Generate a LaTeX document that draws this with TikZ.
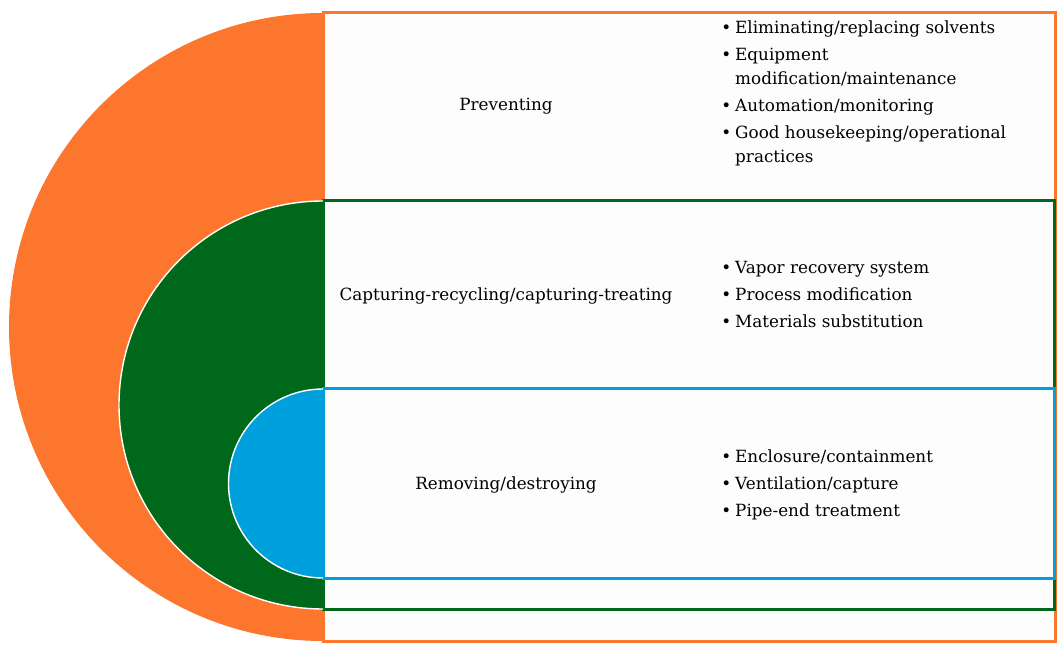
\documentclass[tikz,border=0pt]{standalone}
\usepackage{fontspec}
\setmainfont{DejaVu Serif}
\usepackage{tikz}
\definecolor{orng}{RGB}{253,118,45}
\definecolor{grn}{RGB}{0,104,26}
\definecolor{blu}{RGB}{0,160,220}
\definecolor{paper}{RGB}{253,253,253}
\newcommand{\bl}{\textbullet}

\begin{document}
\begin{tikzpicture}[x=1pt,y=1pt,semithick,
  box/.style={fill=paper,line width=3pt},
  half/.style={draw=white,line width=1.4pt},
  lbl/.style={font=\fontsize{16.8}{24}\selectfont,anchor=center},
  lst/.style={font=\fontsize{16.8}{24}\selectfont,anchor=west,inner sep=0pt}]
\useasboundingbox (0,0) rectangle (1064,653);

% outer band
\draw[box,draw=orng] (323,12) rectangle (1055,640);
\fill[orng] (323,640) arc[start angle=90,end angle=270,radius=314pt] -- cycle;
% middle band
\draw[box,draw=grn] (323,44) rectangle (1054,452);
\fill[grn] (323,452) arc[start angle=90,end angle=270,radius=204pt] -- cycle;
\draw[half] (323,452) arc[start angle=90,end angle=270,radius=204pt];
% inner band
\draw[box,draw=blu] (323,75) rectangle (1054,264);
\fill[blu] (323,264) arc[start angle=90,end angle=270,radius=94.5pt] -- cycle;
\draw[half] (323,264) arc[start angle=90,end angle=270,radius=94.5pt];

\node[lbl] (prev) at (506,547) {Preventing};
\node[lbl] (capt) at (506,357) {Capturing-recycling/capturing-treating};
\node[lbl] (remv) at (506,168) {Removing/destroying};

\node[lst] (prevlist) at (721,560) {\begin{tabular}{@{}l@{\hspace{4pt}}l@{}}
\bl & Eliminating/replacing solvents\\[3pt]
\bl & Equipment\\
    & modification/maintenance\\[3pt]
\bl & Automation/monitoring\\[3pt]
\bl & Good housekeeping/operational\\
    & practices
\end{tabular}};
\node[lst] (captlist) at (721,357) {\begin{tabular}{@{}l@{\hspace{4pt}}l@{}}
\bl & Vapor recovery system\\[3pt]
\bl & Process modification\\[3pt]
\bl & Materials substitution
\end{tabular}};
\node[lst] (remvlist) at (721,168) {\begin{tabular}{@{}l@{\hspace{4pt}}l@{}}
\bl & Enclosure/containment\\[3pt]
\bl & Ventilation/capture\\[3pt]
\bl & Pipe-end treatment
\end{tabular}};
\end{tikzpicture}
\end{document}
